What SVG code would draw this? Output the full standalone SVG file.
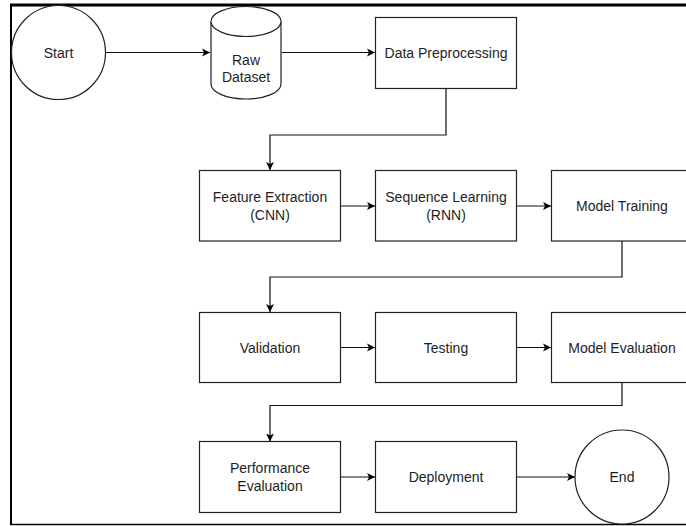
<svg xmlns="http://www.w3.org/2000/svg" width="686" height="526" viewBox="0 0 686 526">
<defs>
<style>
.shape{fill:#fff;stroke:#222;stroke-width:1.2}
.lbl{font-family:"Liberation Sans",Arial,sans-serif;font-size:14px;fill:#1e1e1e;text-anchor:middle}
.conn{fill:none;stroke:#111;stroke-width:1.2}
.frame{stroke:#000;fill:none}
</style>
<marker id="arr" markerUnits="userSpaceOnUse" markerWidth="10" markerHeight="9" refX="8" refY="4.5" orient="auto">
<path d="M0,0.5 L8,4.5 L0,8.5 L2,4.5 Z" fill="#000"/>
</marker>
</defs>
<rect width="686" height="526" fill="#fff"/>
<g id="frame">
<line class="frame" x1="10" y1="5" x2="686" y2="5" stroke-width="3"/>
<line class="frame" x1="11" y1="4" x2="11" y2="525" stroke-width="2"/>
<line class="frame" x1="10" y1="524.5" x2="686" y2="524.5" stroke-width="1.5" stroke="#222"/>
</g>
<g id="connectors">
<path class="conn" d="M105,52.5 H210" marker-end="url(#arr)"/>
<path class="conn" d="M281.5,52.5 H375" marker-end="url(#arr)"/>
<path class="conn" d="M446,88.5 V135 H270 V170" marker-end="url(#arr)"/>
<path class="conn" d="M340.5,206 H375" marker-end="url(#arr)"/>
<path class="conn" d="M516.5,206 H551" marker-end="url(#arr)"/>
<path class="conn" d="M622,241 V277 H270 V312" marker-end="url(#arr)"/>
<path class="conn" d="M340.5,347.5 H375" marker-end="url(#arr)"/>
<path class="conn" d="M516.5,347.5 H551" marker-end="url(#arr)"/>
<path class="conn" d="M622,382.5 V405.5 H270 V441.5" marker-end="url(#arr)"/>
<path class="conn" d="M340.5,477 H375" marker-end="url(#arr)"/>
<path class="conn" d="M516.5,477 H575" marker-end="url(#arr)"/>
</g>
<g id="start">
<circle class="shape" cx="58.5" cy="52.5" r="47"/>
<text class="lbl" x="58.5" y="57.5">Start</text>
</g>
<g id="raw-dataset">
<path class="shape" d="M211,21.5 A35,15 0 0 1 281,21.5 V84 A35,15 0 0 1 211,84 Z"/>
<path class="shape" fill="none" d="M211,21.5 A35,15 0 0 0 281,21.5"/>
<text class="lbl" x="246" y="65">Raw</text>
<text class="lbl" x="246" y="82">Dataset</text>
</g>
<g id="data-preprocessing">
<rect class="shape" x="375.5" y="17.5" width="141" height="71"/>
<text class="lbl" x="446" y="57.5">Data Preprocessing</text>
</g>
<g id="feature-extraction">
<rect class="shape" x="199.5" y="170.5" width="141" height="70.5"/>
<text class="lbl" x="270" y="201.5">Feature Extraction</text>
<text class="lbl" x="270" y="220">(CNN)</text>
</g>
<g id="sequence-learning">
<rect class="shape" x="375.5" y="170.5" width="141" height="70.5"/>
<text class="lbl" x="446" y="201.5">Sequence Learning</text>
<text class="lbl" x="446" y="220">(RNN)</text>
</g>
<g id="model-training">
<rect class="shape" x="551.5" y="170.5" width="141" height="70.5"/>
<text class="lbl" x="622" y="210.5">Model Training</text>
</g>
<g id="validation">
<rect class="shape" x="199.5" y="312.5" width="141" height="70"/>
<text class="lbl" x="270" y="352.5">Validation</text>
</g>
<g id="testing">
<rect class="shape" x="375.5" y="312.5" width="141" height="70"/>
<text class="lbl" x="446" y="352.5">Testing</text>
</g>
<g id="model-evaluation">
<rect class="shape" x="551.5" y="312.5" width="141" height="70"/>
<text class="lbl" x="622" y="352.5">Model Evaluation</text>
</g>
<g id="performance-evaluation">
<rect class="shape" x="199.5" y="441.5" width="141" height="71"/>
<text class="lbl" x="270" y="473">Performance</text>
<text class="lbl" x="270" y="491">Evaluation</text>
</g>
<g id="deployment">
<rect class="shape" x="375.5" y="441.5" width="141" height="71"/>
<text class="lbl" x="446" y="482">Deployment</text>
</g>
<g id="end">
<circle class="shape" cx="622" cy="477" r="47"/>
<text class="lbl" x="622" y="482">End</text>
</g>
</svg>
